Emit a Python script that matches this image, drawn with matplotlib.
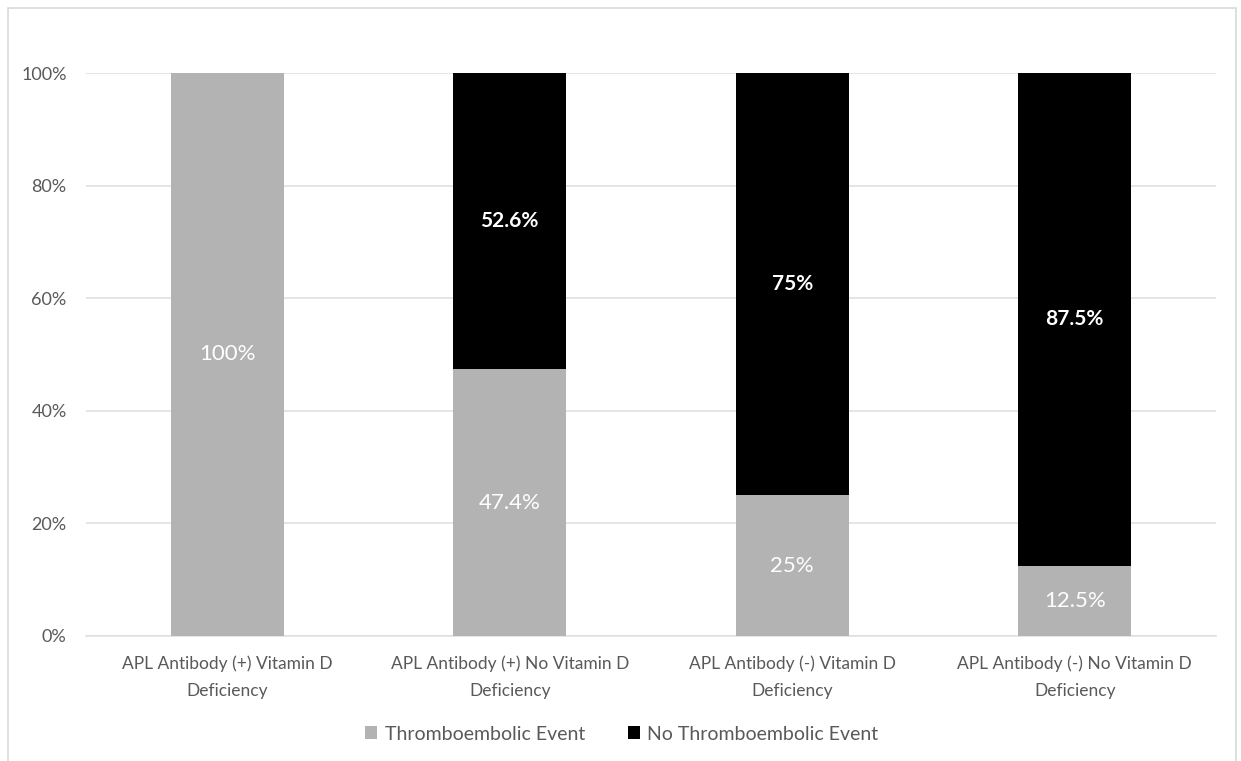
#!/usr/bin/env python3
"""
Thromboembolic events by APL antibody / vitamin D status (100% stacked bars)
"""

import matplotlib
matplotlib.use('Agg')
import matplotlib.pyplot as plt
from matplotlib.patches import Rectangle

plt.rcParams['font.family'] = ['Lato', 'DejaVu Sans']

categories = [
    'APL Antibody (+) Vitamin D\nDeficiency',
    'APL Antibody (+) No Vitamin D\nDeficiency',
    'APL Antibody (-) Vitamin D\nDeficiency',
    'APL Antibody (-) No Vitamin D\nDeficiency',
]
event = [100.0, 47.4, 25.0, 12.5]
no_event = [0.0, 52.6, 75.0, 87.5]
event_labels = ['100%', '47.4%', '25%', '12.5%']
no_event_labels = ['', '52.6%', '75%', '87.5%']
series_names = ['Thromboembolic Event', 'No Thromboembolic Event']

fig = plt.figure(figsize=(12.41, 7.61), dpi=100)
# outer chart frame
fig.patches.append(Rectangle((8 / 1241, -0.01), 1228 / 1241, 1 - 8 / 761 + 0.01,
                             transform=fig.transFigure, fill=False,
                             edgecolor='#d9d9d9', linewidth=1.2))

ax = fig.add_axes([86 / 1241, 1 - 636 / 761, 1130 / 1241, 563 / 761])

x = range(len(categories))
width = 0.4
b1 = ax.bar(x, event, width, color='#b3b3b3', label=series_names[0], zorder=3)
b2 = ax.bar(x, no_event, width, bottom=event, color='#000000', label=series_names[1], zorder=3)

for i in x:
    ax.text(i, event[i] / 2, event_labels[i], ha='center', va='center',
            color='white', fontsize=16, zorder=4)
    if no_event[i] > 0:
        ax.text(i, event[i] + no_event[i] / 2, no_event_labels[i], ha='center', va='center',
                color='white', fontsize=15, fontweight='bold', zorder=4)

ax.set_xlim(-0.5, 3.5)
ax.set_ylim(0, 100)
ax.set_yticks([0, 20, 40, 60, 80, 100])
ax.set_yticklabels(['0%', '20%', '40%', '60%', '80%', '100%'])
ax.set_xticks(list(x))
ax.set_xticklabels(categories)
ax.tick_params(length=0, labelcolor='#595959')
ax.tick_params(axis='y', pad=14, labelsize=13)
ax.tick_params(axis='x', pad=14, labelsize=12.5)
for lab in ax.get_xticklabels():
    lab.set_linespacing(1.85)
ax.grid(axis='y', color='#e0e0e0', linewidth=1.2, zorder=0)
for s in ['top', 'right', 'left']:
    ax.spines[s].set_visible(False)
ax.spines['bottom'].set_color('#e0e0e0')
ax.spines['bottom'].set_linewidth(1.2)

fig.legend(handles=[b1, b2], labels=series_names, loc='center',
           bbox_to_anchor=(622 / 1241, 1 - 734 / 761), ncol=2, frameon=False,
           fontsize=14, labelcolor='#595959', handlelength=0.6, handleheight=0.6,
           handletextpad=0.4, columnspacing=2.2)

plt.savefig('out.png', dpi=100)
